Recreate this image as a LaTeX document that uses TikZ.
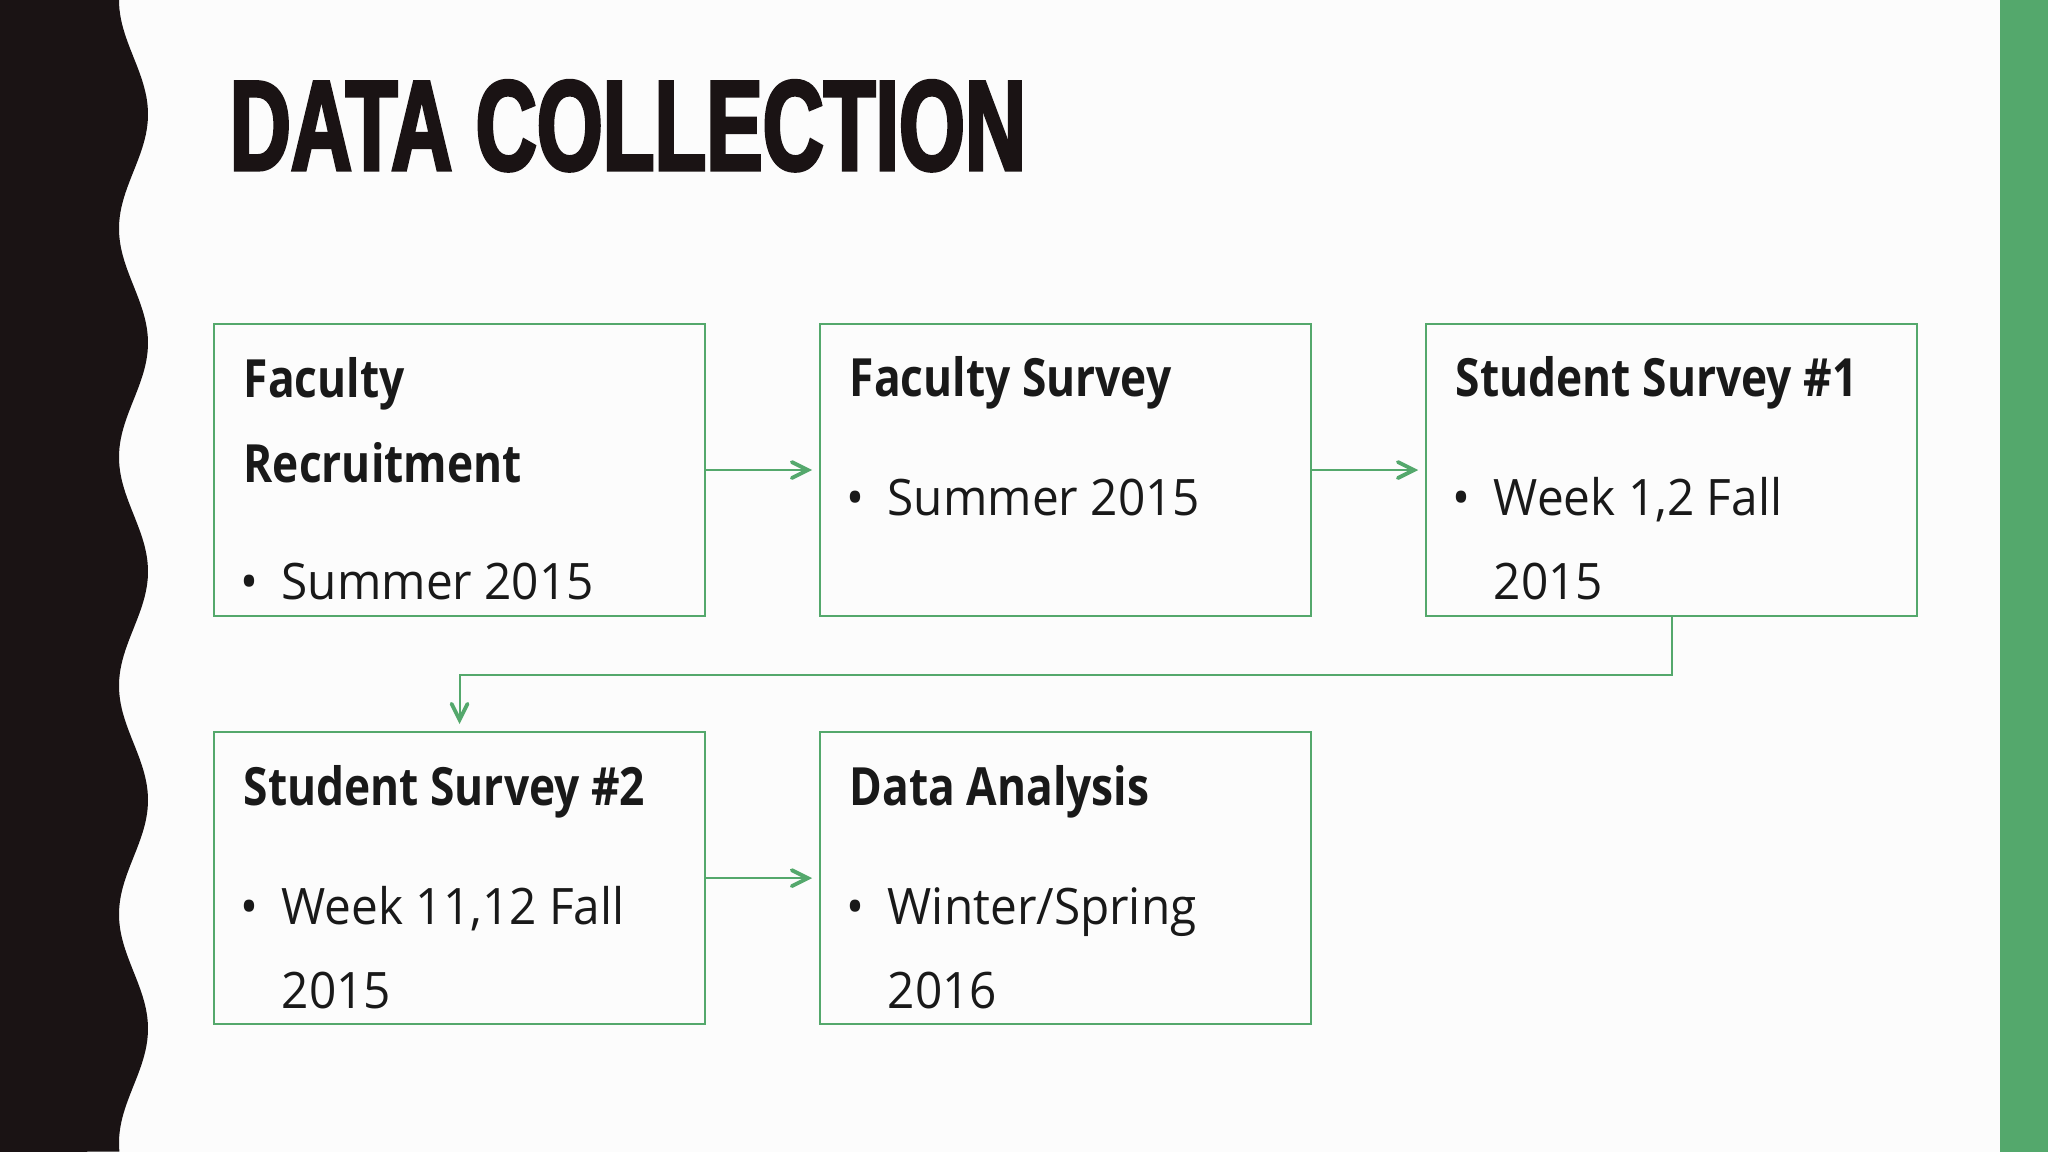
\documentclass[tikz,border=0pt]{standalone}
\usepackage{fontspec}
\usepackage{tikz}
\usetikzlibrary{arrows.meta,positioning}
\newfontfamily\boxfont[FakeStretch=0.84]{Open Sans}
\newfontfamily\itemfont[FakeStretch=0.95]{Open Sans}
\newfontfamily\titlefont[FakeStretch=0.66,FakeBold=2.5]{Liberation Sans}
\definecolor{leafgreen}{RGB}{84,168,108}
\definecolor{inkblack}{RGB}{26,19,20}

\begin{document}
\begin{tikzpicture}[
        stepbox/.style={draw=leafgreen, line width=0.6pt, inner sep=0pt,
                        minimum width=4.91cm, minimum height=2.92cm},
        head/.style={anchor=base west, inner sep=0pt, align=left, text=black!90,
                     font=\boxfont\bfseries\fontsize{15pt}{24.4pt}\selectfont},
        item/.style={anchor=base west, inner sep=0pt, align=left, text=black!90,
                     font=\itemfont\fontsize{14.3pt}{23.9pt}\selectfont},
        flow/.style={draw=leafgreen, line width=0.55pt, shorten >=0.07cm,
                     -{Straight Barb[length=1.6mm, width=1.6mm, line width=1.1pt, line cap=round]}},
        node distance=1.16cm and 1.13cm]
    \useasboundingbox (0,0) rectangle (20.48,11.52);
    \fill[white!99!black] (0,0) rectangle (20.48,11.52);

    % wavy black band and green bar
    \fill[inkblack] (0,11.52)
        -- plot[domain=0:11.52, samples=240, variable=\t]
            ({1.335-0.145*cos(\t/2.286*360)}, {11.52-\t})
        -- (0,0) -- cycle;
    \fill[leafgreen] (20.00,0) rectangle (20.48,11.52);

    \node[anchor=base west, inner sep=0pt, text=inkblack,
          font=\titlefont\bfseries\fontsize{36.5pt}{37pt}\selectfont]
        (title) at (2.29,9.82) {DATA COLLECTION};

    % boxes
    \node[stepbox, anchor=north west] (b1) at (2.13,8.29) {};
    \node[stepbox, right=of b1] (b2) {};
    \node[stepbox, right=of b2] (b3) {};
    \node[stepbox, below=1.14cm of b1] (b4) {};
    \node[stepbox, right=of b4] (b5) {};

    % texts (base = last line)
    \node[head] (h1) at ([shift={(0.30,-1.60)}]b1.north west) {Faculty\\Recruitment};
    \node[item] (i1) at ([shift={(0.68,-2.77)}]b1.north west)
        {\llap{\textbullet\hskip0.23cm}Summer 2015};
    \node[head] (h2) at ([shift={(0.30,-0.74)}]b2.north west) {Faculty Survey};
    \node[item] (i2) at ([shift={(0.68,-1.93)}]b2.north west)
        {\llap{\textbullet\hskip0.23cm}Summer 2015};
    \node[head] (h3) at ([shift={(0.30,-0.74)}]b3.north west) {Student Survey \#1};
    \node[item] (i3) at ([shift={(0.68,-2.77)}]b3.north west)
        {\llap{\textbullet\hskip0.23cm}Week 1,2 Fall\\2015};
    \node[head] (h4) at ([shift={(0.30,-0.74)}]b4.north west) {Student Survey \#2};
    \node[item] (i4) at ([shift={(0.68,-2.77)}]b4.north west)
        {\llap{\textbullet\hskip0.23cm}Week 11,12 Fall\\2015};
    \node[head] (h5) at ([shift={(0.30,-0.74)}]b5.north west) {Data Analysis};
    \node[item] (i5) at ([shift={(0.68,-2.77)}]b5.north west)
        {\llap{\textbullet\hskip0.23cm}Winter/Spring\\2016};

    % connectors
    \draw[flow] (b1) -- (b2);
    \draw[flow] (b2) -- (b3);
    \draw[flow] (b3.south) -- ++(0,-0.58) -| (b4.north);
    \draw[flow] (b4) -- (b5);
\end{tikzpicture}
\end{document}
